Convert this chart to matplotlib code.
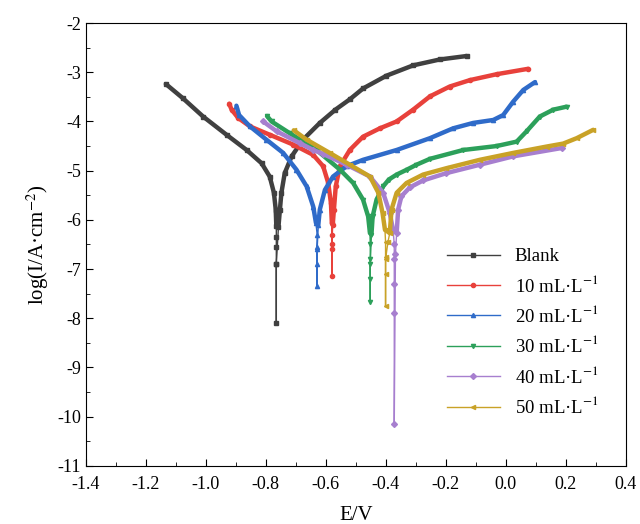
import numpy as np
import matplotlib
matplotlib.use("Agg")
import matplotlib.pyplot as plt
from matplotlib.ticker import MultipleLocator, FormatStrFormatter

plt.rcParams['font.family'] = ['Liberation Serif', 'DejaVu Serif']
plt.rcParams['mathtext.fontset'] = 'stix'
plt.rcParams['axes.unicode_minus'] = False

# --------------------------------------------------------
# Data (E in V, log I), in scan order:
# cathodic branch, points down the spike at Ecorr, anodic branch
# --------------------------------------------------------
labels = ["Blank", "10 mL·L$^{-1}$", "20 mL·L$^{-1}$",
          "30 mL·L$^{-1}$", "40 mL·L$^{-1}$", "50 mL·L$^{-1}$"]
colors = ["#404040", "#e8413b", "#2f6bc9", "#2ca05a", "#a77fcf", "#c9a227"]
markers = ["s", "o", "^", "v", "D", "<"]
spike_cut = [-6.2, -6.15, -6.15, -6.35, -6.3, -6.3]

blank_E = [-1.133, -1.076, -1.009, -0.931, -0.864, -0.814, -0.787, -0.773, -0.767,
           -0.765, -0.765, -0.765, -0.765, -0.765, -0.765, -0.758, -0.753, -0.748,
           -0.737, -0.714, -0.676, -0.620, -0.568, -0.520, -0.476, -0.398, -0.309,
           -0.220, -0.131]
blank_I = [-3.24, -3.53, -3.90, -4.27, -4.58, -4.85, -5.12, -5.45, -5.79,
           -6.13, -6.35, -6.55, -6.90, -8.10, -6.90, -6.15, -5.79, -5.45,
           -5.05, -4.71, -4.37, -4.03, -3.76, -3.55, -3.33, -3.07, -2.86,
           -2.74, -2.67]

c10_E = [-0.922, -0.914, -0.892, -0.853, -0.787, -0.709, -0.642, -0.609, -0.592,
         -0.583, -0.580, -0.580, -0.580, -0.580, -0.580, -0.577, -0.573, -0.567,
         -0.553, -0.520, -0.476, -0.420, -0.364, -0.309, -0.253, -0.187, -0.120,
         -0.031, 0.074]
c10_I = [-3.64, -3.76, -3.93, -4.10, -4.27, -4.47, -4.68, -4.91, -5.25,
         -5.66, -6.06, -6.30, -6.60, -7.15, -6.50, -6.10, -5.79, -5.32,
         -4.91, -4.58, -4.31, -4.14, -4.00, -3.76, -3.49, -3.29, -3.16,
         -3.04, -2.93]

c20_E = [-0.898, -0.889, -0.853, -0.798, -0.742, -0.698, -0.664, -0.642, -0.633,
         -0.629, -0.629, -0.629, -0.629, -0.629, -0.625, -0.620, -0.603, -0.576,
         -0.531, -0.476, -0.364, -0.253, -0.176, -0.109, -0.042, -0.009, 0.024,
         0.058, 0.097]
c20_I = [-3.68, -3.87, -4.10, -4.37, -4.64, -4.98, -5.32, -5.73, -6.06,
         -6.30, -6.55, -6.90, -7.35, -6.60, -6.10, -5.79, -5.39, -5.12,
         -4.91, -4.78, -4.58, -4.34, -4.14, -4.03, -3.97, -3.87, -3.60,
         -3.36, -3.20]

c30_E = [-0.796, -0.781, -0.720, -0.631, -0.553, -0.509, -0.476, -0.459, -0.453,
         -0.452, -0.452, -0.452, -0.452, -0.452, -0.448, -0.444, -0.431, -0.409,
         -0.390, -0.364, -0.330, -0.298, -0.253, -0.142, -0.031, 0.036, 0.069,
         0.113, 0.158, 0.202]
c30_I = [-3.89, -4.00, -4.24, -4.58, -4.98, -5.25, -5.59, -5.93, -6.27,
         -6.50, -6.80, -7.20, -7.67, -6.90, -6.30, -5.93, -5.59, -5.32,
         -5.18, -5.08, -4.98, -4.88, -4.76, -4.58, -4.50, -4.41, -4.20,
         -3.90, -3.76, -3.70]

c40_E = [-0.809, -0.764, -0.687, -0.642, -0.609, -0.531, -0.453, -0.409, -0.387,
         -0.376, -0.372, -0.372, -0.372, -0.372, -0.372, -0.368, -0.364, -0.359,
         -0.348, -0.320, -0.276, -0.198, -0.087, 0.024, 0.186]
c40_I = [-4.00, -4.20, -4.44, -4.58, -4.66, -4.88, -5.12, -5.45, -5.86,
         -6.20, -6.50, -6.80, -7.30, -7.90, -10.15, -6.70, -6.27, -5.79,
         -5.52, -5.34, -5.20, -5.05, -4.88, -4.71, -4.54]

c50_E = [-0.707, -0.664, -0.587, -0.520, -0.453, -0.425, -0.411, -0.403,
         -0.401, -0.401, -0.401, -0.401, -0.401, -0.393, -0.387, -0.381, -0.364,
         -0.331, -0.276, -0.198, -0.087, 0.024, 0.136, 0.191, 0.236,
         0.291]
c50_I = [-4.18, -4.37, -4.64, -4.88, -5.12, -5.45, -5.86, -6.20,
         -6.45, -6.75, -7.10, -7.75, -6.80, -6.45, -6.27, -5.79, -5.45,
         -5.25, -5.08, -4.95, -4.78, -4.64, -4.51, -4.45, -4.34,
         -4.17]

curves_E = [blank_E, c10_E, c20_E, c30_E, c40_E, c50_E]
curves_I = [blank_I, c10_I, c20_I, c30_I, c40_I, c50_I]

# --------------------------------------------------------
# Plot
# --------------------------------------------------------
fig = plt.figure(figsize=(6.4, 5.24), dpi=100)
ax = fig.add_axes([0.134, 0.111, 0.844, 0.845])

for E, I, c, m, lab, cut in zip(curves_E, curves_I, colors, markers, labels, spike_cut):
    E = np.array(E)
    I = np.array(I)
    # thin line with markers (also gives the legend handle)
    ax.plot(E, I, color=c, lw=1.0, marker=m, ms=3.0, label=lab)
    # dense part of the scan drawn as a thick band
    keep = I > cut
    ax.plot(E[keep], I[keep], color=c, lw=3.2, solid_capstyle='round',
            solid_joinstyle='round')

ax.set_xlim(-1.4, 0.4)
ax.set_ylim(-11, -2)
ax.xaxis.set_major_locator(MultipleLocator(0.2))
ax.xaxis.set_minor_locator(MultipleLocator(0.1))
ax.yaxis.set_major_locator(MultipleLocator(1))
ax.yaxis.set_minor_locator(MultipleLocator(0.5))
ax.xaxis.set_major_formatter(FormatStrFormatter('%.1f'))
ax.tick_params(which='both', direction='in', labelsize=13)
ax.tick_params(which='major', length=5)
ax.tick_params(which='minor', length=3)
ax.tick_params(axis='x', pad=7)
ax.set_xlabel("E/V", fontsize=15, labelpad=10)
ax.set_ylabel("log(I/A·cm$^{-2}$)", fontsize=15)

ax.legend(loc='lower right', frameon=False, fontsize=13.5, handlelength=2.8,
          bbox_to_anchor=(0.98, 0.072), labelspacing=0.5)

plt.savefig("out.png", dpi=100)
